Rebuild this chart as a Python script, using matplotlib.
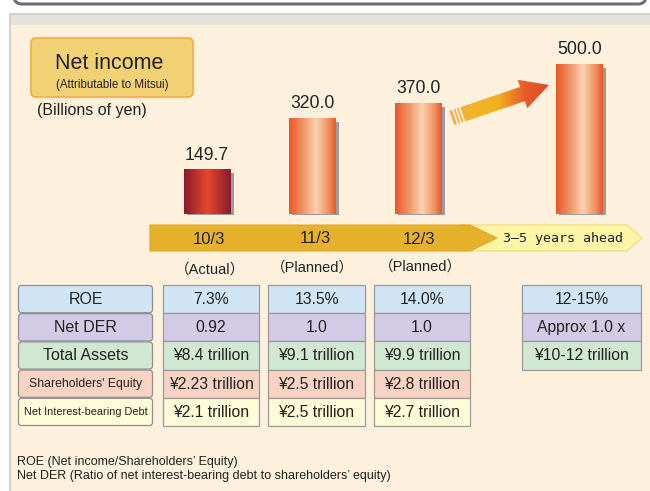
import numpy as np
import matplotlib
matplotlib.use("Agg")
import matplotlib.pyplot as plt
from matplotlib.patches import Rectangle, FancyBboxPatch, Polygon
from matplotlib.colors import LinearSegmentedColormap

plt.rcParams['font.family'] = ['Liberation Sans', 'Noto Sans CJK JP', 'DejaVu Sans']

# Data
periods = ["10/3", "11/3", "12/3", "3\u20135 years ahead"]
period_notes = ["\uff08Actual\uff09", "\uff08Planned\uff09", "\uff08Planned\uff09"]
net_income = [149.7, 320.0, 370.0, 500.0]

row_labels = ["ROE", "Net DER", "Total Assets", "Shareholders' Equity", "Net Interest-bearing Debt"]
col_1003 = ["7.3%", "0.92", "\u00a58.4 trillion", "\u00a52.23 trillion", "\u00a52.1 trillion"]
col_1103 = ["13.5%", "1.0", "\u00a59.1 trillion", "\u00a52.5 trillion", "\u00a52.5 trillion"]
col_1203 = ["14.0%", "1.0", "\u00a59.9 trillion", "\u00a52.8 trillion", "\u00a52.7 trillion"]
col_ahead = ["12-15%", "Approx 1.0 x", "\u00a510-12 trillion"]

footnotes = ["ROE (Net income/Shareholders\u2019 Equity)",
             "Net DER (Ratio of net interest-bearing debt to shareholders\u2019 equity)"]

# Layout (pixels)
W, H = 650, 491
bar_x = [207, 312.5, 418, 579.5]
bar_w = 47
base_y = 214
px_per_unit = 0.3
row_colors = ["#cfe5f6", "#d3cae5", "#d0e7d2", "#f8d2c2", "#fdfbd8"]
label_fs = [11.5, 11.5, 11.5, 8.8, 7.9]
col_spans = [(163, 259), (268, 365), (374, 470), (522, 641)]
row_top, row_h = 285, 28.2
txt = "#222222"

fig = plt.figure(figsize=(W / 100, H / 100), dpi=100)
fig.patch.set_facecolor("white")
ax = fig.add_axes([0, 0, 1, 1])
ax.set_xlim(0, W)
ax.set_ylim(H, 0)
ax.axis("off")

# top frame remnant
ax.add_patch(FancyBboxPatch((14, -40), 632, 44, boxstyle="round,pad=0,rounding_size=8",
                            fc="white", ec="#6f6f6f", lw=2.2))
# panel
ax.add_patch(Rectangle((10, 14), 660, 500, fc="#fdf1dd", ec="#cdc8c2", lw=1.2))
ax.add_patch(Rectangle((10.6, 14.6), 660, 10.5, fc="#e5e1db", ec="none"))

# title box
ax.add_patch(FancyBboxPatch((31, 38), 162, 59, boxstyle="round,pad=0,rounding_size=5",
                            fc="#f1d173", ec="#f0b24c", lw=1.3))
ax.text(109, 63, "Net income", fontsize=15.5, ha="center", va="center", color=txt)
ax.text(112, 85, "(Attributable to Mitsui)", fontsize=8.3, ha="center", va="center", color=txt)
ax.text(37, 110, "(Billions of yen)", fontsize=11.5, ha="left", va="center", color=txt)

# growth arrow
T = np.array([452.0, 118.0])
P = np.array([549.0, 85.0])
u = (P - T) / np.linalg.norm(P - T)
n = np.array([-u[1], u[0]])
Hd = P - 28 * u
pts = [T - 7.5 * n, Hd - 7.5 * n, Hd - 15 * n, P, Hd + 15 * n, Hd + 7.5 * n, T + 7.5 * n]
arrow = Polygon(pts, closed=True, fc="none", ec="none")
ax.add_patch(arrow)
acmap = LinearSegmentedColormap.from_list("arr", ["#f2a65a", "#f3b52a", "#f0b020", "#e85a2c", "#e04a28"])
grad = np.linspace(0, 1, 200).reshape(1, -1)
im = ax.imshow(grad, cmap=acmap, extent=(445, 552, 130, 75), aspect="auto", zorder=2)
im.set_clip_path(arrow)
for k in (3.5, 7.0, 10.5):
    a = T + k * u - 8 * n
    b = T + k * u + 8 * n
    ax.plot([a[0], b[0]], [a[1], b[1]], color="#fdf1dd", lw=1.3, zorder=3)
ax.set_xlim(0, W)
ax.set_ylim(H, 0)

# timeline band
ax.add_patch(Polygon([(460, 225), (627, 225), (642, 238), (627, 251), (460, 251)],
                     fc="#fdf4a6", ec="#f2de86", lw=1))
ax.add_patch(Polygon([(150, 225), (470, 225), (497, 238), (470, 251), (150, 251)],
                     fc="#e5b12b", ec="#e0a826", lw=0.8))
period_pos = [(209, 239), (315, 238), (419, 239)]
for (x, y), lab in zip(period_pos, periods[:3]):
    ax.text(x, y, lab, fontsize=12, ha="center", va="center", color=txt)
ax.text(563, 238, periods[3], fontsize=9.6, ha="center", va="center", color=txt,
        family=["DejaVu Sans Mono"])

note_pos = [(210, 270), (312, 268), (420, 267)]
for (x, y), lab in zip(note_pos, period_notes):
    ax.text(x, y, lab, fontsize=10.5, ha="center", va="center", color=txt)

# table
for i, lab in enumerate(row_labels):
    y0 = row_top + i * row_h
    ax.add_patch(FancyBboxPatch((18.5, y0 + 0.5), 134, row_h - 1, boxstyle="round,pad=0,rounding_size=3",
                                fc=row_colors[i], ec="#8f8f8f", lw=0.9))
    ax.text(85.5, y0 + row_h / 2, lab, fontsize=label_fs[i], ha="center", va="center", color=txt)

for (x0, x1), col in zip(col_spans, [col_1003, col_1103, col_1203, col_ahead]):
    for i, val in enumerate(col):
        y0 = row_top + i * row_h
        ax.add_patch(Rectangle((x0, y0), x1 - x0, row_h, fc=row_colors[i], ec="#9a9a9a", lw=0.9))
        ax.text((x0 + x1) / 2, y0 + row_h / 2 + 0.5, val, fontsize=11.3, ha="center", va="center", color=txt)

for j, line in enumerate(footnotes):
    ax.text(17, 462 + j * 13.5, line, fontsize=9, ha="left", va="center", color=txt)

# bar chart
bx = fig.add_axes([0, (H - base_y) / H, 1, 500 * px_per_unit / H])
bx.set_xlim(0, W)
bx.patch.set_alpha(0)
bx.axis("off")

shadow_units = 3 / px_per_unit
bx.bar([x + 3 for x in bar_x], [v - shadow_units for v in net_income], width=bar_w,
       bottom=-1 / px_per_unit, color="#9c9c9c", clip_on=False, zorder=1)
bars = bx.bar(bar_x, net_income, width=bar_w, color="none", zorder=2)

red_cmap = LinearSegmentedColormap.from_list("red", [(0, "#8a1a2c"), (0.5, "#e4482f"), (1, "#8a1a2c")])
org_cmap = LinearSegmentedColormap.from_list(
    "org", [(0, "#e85a28"), (0.25, "#f08a5a"), (0.58, "#f8d2b2"), (0.85, "#f0905e"), (1, "#e65a28")])
hgrad = np.linspace(0, 1, 100).reshape(1, -1)
for i, (b, v) in enumerate(zip(bars, net_income)):
    x0 = b.get_x()
    cm = red_cmap if i == 0 else org_cmap
    bim = bx.imshow(hgrad, cmap=cm, extent=(x0, x0 + bar_w, 0, v), aspect="auto", zorder=3)
    bim.set_clip_path(b)
    bx.annotate(f"{v:.1f}", (b.get_x() + bar_w / 2, v), xytext=(0, 4), textcoords="offset points",
                ha="center", va="bottom", fontsize=12.7, color=txt)
bx.set_xlim(0, W)
bx.set_ylim(0, 500)

fig.savefig("out.png", dpi=100, facecolor="white")
